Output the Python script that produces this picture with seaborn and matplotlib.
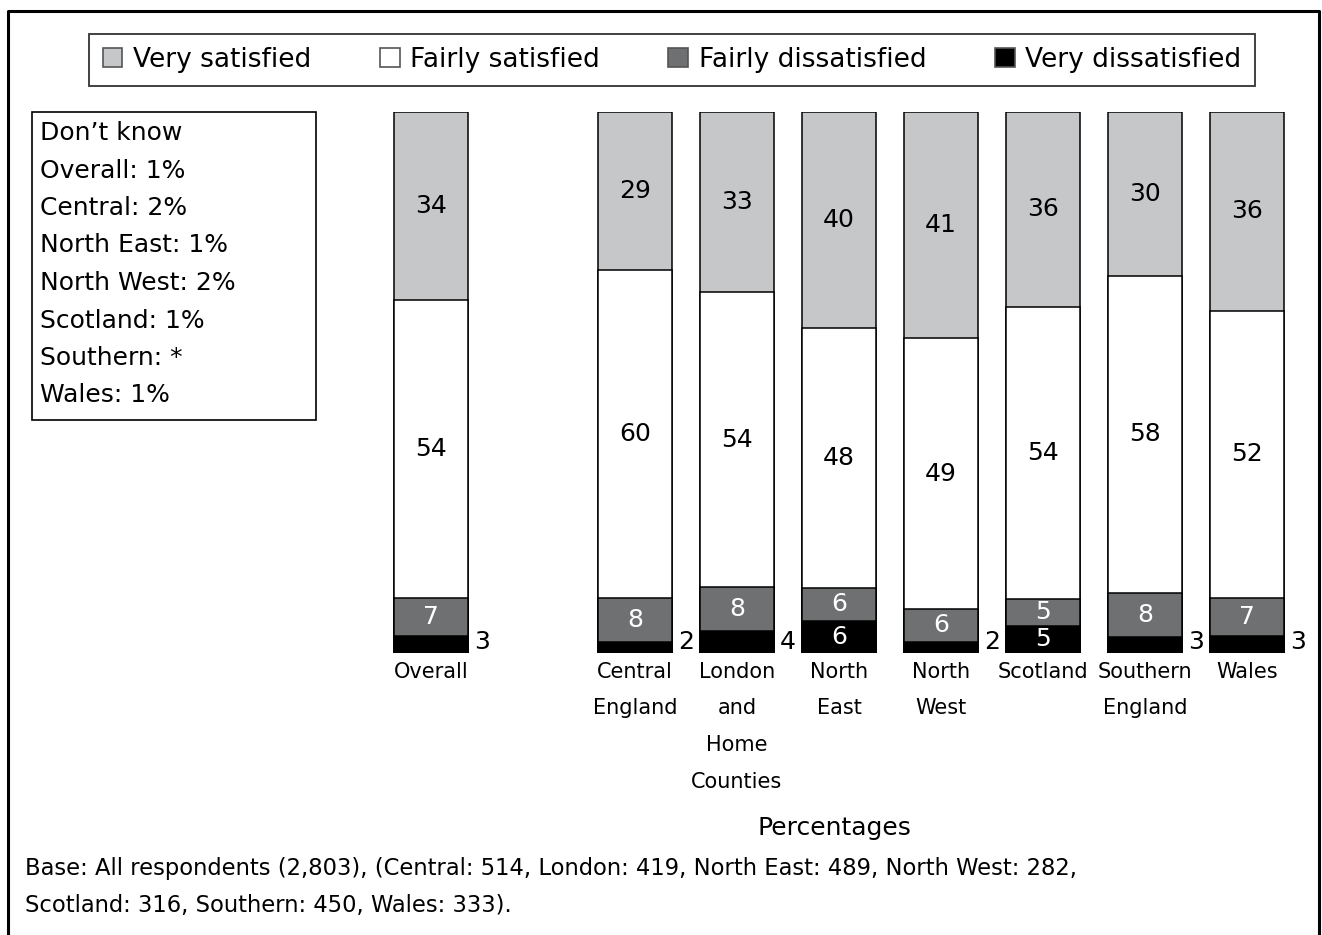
import matplotlib
matplotlib.use("Agg")
import matplotlib.pyplot as plt
from matplotlib.patches import Patch, Rectangle
from matplotlib.lines import Line2D
import numpy as np
import pandas as pd
import seaborn as sns

# Survey results (percent of respondents)
categories = ["Overall", "Central England", "London and Home Counties", "North East",
              "North West", "Scotland", "Southern England", "Wales"]
tick_labels = ["Overall", "Central\nEngland", "London\nand\nHome\nCounties", "North\nEast",
               "North\nWest", "Scotland", "Southern\nEngland", "Wales"]
very_satisfied = [34, 29, 33, 40, 41, 36, 30, 36]
fairly_satisfied = [54, 60, 54, 48, 49, 54, 58, 52]
fairly_dissatisfied = [7, 8, 8, 6, 6, 5, 8, 7]
very_dissatisfied = [3, 2, 4, 6, 2, 5, 3, 3]

series_names = ["Very satisfied", "Fairly satisfied", "Fairly dissatisfied", "Very dissatisfied"]
series_colors = ["#c6c7c9", "#ffffff", "#6f7072", "#000000"]
dont_know = ["Don\u2019t know", "Overall: 1%", "Central: 2%", "North East: 1%",
             "North West: 2%", "Scotland: 1%", "Southern: *", "Wales: 1%"]
base_note = ("Base: All respondents (2,803), (Central: 514, London: 419, North East: 489, North West: 282,\n"
             "Scotland: 316, Southern: 450, Wales: 333).")

sns.set_theme(style="white")
plt.rcParams["font.family"] = ["DejaVu Sans"]
plt.rcParams["text.color"] = "black"

df = pd.DataFrame({
    "category": categories,
    "Very satisfied": very_satisfied,
    "Fairly satisfied": fairly_satisfied,
    "Fairly dissatisfied": fairly_dissatisfied,
    "Very dissatisfied": very_dissatisfied,
})
# each bar fills 100% of its height
totals = df[series_names].sum(axis=1)
shares = df[series_names].div(totals, axis=0) * 100
# cumulative tops, stacked from the bottom (very dissatisfied) upward
tops = shares[series_names[::-1]].cumsum(axis=1)

order = ["Overall", " "] + categories[1:]
W, H = 1322, 935
fig = plt.figure(figsize=(W / 100, H / 100), dpi=100)

def px(x, y):
    return x / W, 1 - y / H

ax_left, ax_right = 431 - 0.6 * 102, 431 + 8.6 * 102
ax = fig.add_axes([ax_left / W, (H - 653) / H, (ax_right - ax_left) / W, 541 / H])

bar_w = 0.725
for name, color in zip(series_names, series_colors):
    d = pd.DataFrame({"category": df["category"], "top": tops[name]})
    sns.barplot(data=d, x="category", y="top", order=order, color=color,
                width=bar_w, edgecolor="black", linewidth=1.1, saturation=1,
                errorbar=None, ax=ax)

ax.set_xlim(-0.6, 8.6)
ax.set_ylim(0, 100)
ax.set_xlabel("")
ax.set_ylabel("")
ax.set_yticks([])
ax.set_xticks([])
for s in ax.spines.values():
    s.set_visible(False)

positions = [0, 2, 3, 4, 5, 6, 7, 8]
label_fs = 18
for i, p in enumerate(positions):
    vd = shares.loc[i, "Very dissatisfied"]
    fd = shares.loc[i, "Fairly dissatisfied"]
    fs = shares.loc[i, "Fairly satisfied"]
    vs = shares.loc[i, "Very satisfied"]
    ax.text(p, 100 - vs / 2, str(very_satisfied[i]), ha="center", va="center",
            fontsize=label_fs, color="black")
    ax.text(p, vd + fd + fs / 2, str(fairly_satisfied[i]), ha="center", va="center",
            fontsize=label_fs, color="black")
    ax.text(p, vd + fd / 2, str(fairly_dissatisfied[i]), ha="center", va="center",
            fontsize=label_fs, color="white")
    if very_dissatisfied[i] >= 5:
        ax.text(p, vd / 2, str(very_dissatisfied[i]), ha="center", va="center",
                fontsize=label_fs, color="white")
    else:
        ax.text(p + bar_w / 2 + 0.06, 2.0, str(very_dissatisfied[i]), ha="left",
                va="center", fontsize=label_fs, color="black", clip_on=False)
    ax.text(p, -1.6, tick_labels[i], ha="center", va="top", fontsize=15,
            linespacing=2.05, color="black", clip_on=False)

# legend
handles = [Patch(facecolor=c, edgecolor="#555555", linewidth=1.2) for c in series_colors]
leg = fig.legend(handles, series_names, loc="center", ncol=4,
                 bbox_to_anchor=(px(672, 60)[0], px(672, 60)[1]),
                 fontsize=19, frameon=True, fancybox=False, edgecolor="black",
                 handlelength=0.75, handleheight=0.75, handletextpad=0.4,
                 columnspacing=2.6, borderpad=0.5, borderaxespad=0)
leg.get_frame().set_linewidth(1.3)
for t in leg.get_texts():
    t.set_color("black")

# "Don't know" box
x0, y0 = px(32, 420)
x1, y1 = px(316, 112)
fig.patches.append(Rectangle((x0, y0), x1 - x0, y1 - y0, transform=fig.transFigure,
                             facecolor="none", edgecolor="black", linewidth=1.2))
for k, line in enumerate(dont_know):
    fig.text(*px(40, 133 + 37.5 * k), line, ha="left", va="center", fontsize=18)

fig.text(*px(834, 828), "Percentages", ha="center", va="center", fontsize=18)
fig.text(*px(25, 887), base_note, ha="left", va="center", fontsize=16.3, linespacing=1.75)

# outer frame (top, left, right)
fx0, fy = px(8, 11)
fx1, _ = px(1319, 11)
fig.lines.append(Line2D([fx0, fx0, fx1, fx1], [0, fy, fy, 0], transform=fig.transFigure,
                        color="black", linewidth=2.2))

fig.savefig("out.png", dpi=100)
